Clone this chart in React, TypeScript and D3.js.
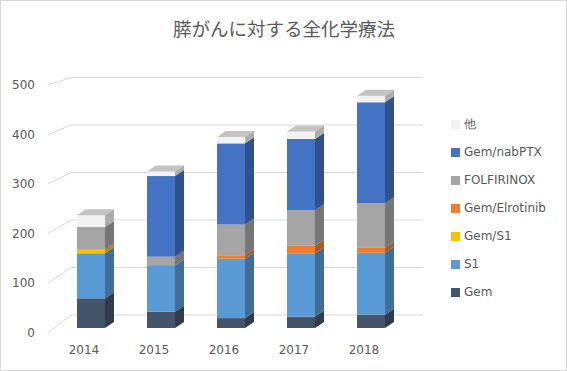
import React from "react";
import * as d3 from "d3";

const years = ["2014", "2015", "2016", "2017", "2018"];
const seriesNames = ["Gem", "S1", "Gem/S1", "Gem/Elrotinib", "FOLFIRINOX", "Gem/nabPTX", "他"];
const gem = [60, 33, 20, 23, 27];
const s1 = [91, 94, 120, 128, 125];
const gemS1 = [7, 0, 0, 0, 0];
const gemElro = [0, 0, 7, 15, 10];
const folfirinox = [46, 17, 62, 72, 90];
const gemNab = [0, 163, 164, 144, 204];
const other = [24, 9, 13, 15, 13];
const ticks = [0, 100, 200, 300, 400, 500];

const seriesValues = [gem, s1, gemS1, gemElro, folfirinox, gemNab, other];
const colors = ["#44546A", "#5B9BD5", "#FFC000", "#ED7D31", "#A5A5A5", "#4472C4", "#F2F2F2"];

const W = 567;
const H = 371;
const DX = 9;
const DY = -6;
const textColor = "#595959";
const grid = "#d9d9d9";
const font = "'DejaVu Sans', sans-serif";

export default function App() {
  const x = d3.scaleBand<string>().domain(years).range([56, 406]).paddingInner(0.6).paddingOuter(0.3);
  const y = d3.scaleLinear().domain([0, 500]).range([328, 328 - 247.5]);
  const yFront = d3.scaleLinear().domain([0, 500]).range([332.7, 85]);
  const yBack = d3.scaleLinear().domain([0, 500]).range([315, 77.5]);
  const xFront = 48;
  const xBack = 71;
  const xRight = 423;

  const stacked = d3
    .stack<number>()
    .keys(seriesNames.map((_, i) => String(i)))
    .value((j, key) => seriesValues[+key][j])(d3.range(years.length));

  const bars: React.ReactNode[] = [];
  years.forEach((yr, j) => {
    const x0 = x(yr)!;
    const bw = x.bandwidth();
    let topIdx = -1;
    stacked.forEach((layer, i) => {
      if (layer[j][1] - layer[j][0] > 0) topIdx = i;
    });
    stacked.forEach((layer, i) => {
      const v0 = layer[j][0];
      const v1 = layer[j][1];
      if (v1 - v0 <= 0) return;
      const yTop = y(v1);
      const yBot = y(v0);
      const c = d3.color(colors[i])!;
      const side = d3.rgb(c).darker(0.95).toString();
      const top = d3.rgb(c).darker(0.6).toString();
      bars.push(
        <g key={`${j}-${i}`}>
          <polygon
            points={`${x0 + bw},${yBot} ${x0 + bw + DX},${yBot + DY} ${x0 + bw + DX},${yTop + DY} ${x0 + bw},${yTop}`}
            fill={side}
          />
          <rect x={x0} y={yTop} width={bw} height={yBot - yTop} fill={colors[i]} />
          {i === topIdx && (
            <polygon
              points={`${x0},${yTop} ${x0 + DX},${yTop + DY} ${x0 + bw + DX},${yTop + DY} ${x0 + bw},${yTop}`}
              fill={top}
            />
          )}
        </g>
      );
    });
  });

  const legendOrder = d3.range(seriesNames.length).reverse();

  return (
    <svg width={W} height={H} style={{ position: "absolute", left: 0, top: 0, background: "#fff" }}>
      <rect x={0.5} y={0.5} width={W - 1} height={H - 1} fill="#fff" stroke={grid} />
      <text x={284} y={36} textAnchor="middle" fontSize={18.5} fill={textColor} fontFamily="'Noto Sans CJK JP', sans-serif">
        膵がんに対する全化学療法
      </text>
      {ticks.map((t) => (
        <g key={t}>
          <polyline
            points={`${xFront},${yFront(t)} ${xBack},${yBack(t)} ${xRight},${yBack(t)}`}
            fill="none"
            stroke={grid}
            strokeWidth={1}
          />
          <text x={35} y={yFront(t)} dy="0.35em" textAnchor="end" fontSize={12} fill={textColor} fontFamily={font}>
            {t}
          </text>
        </g>
      ))}
      {bars}
      {years.map((yr) => (
        <text key={yr} x={x(yr)! + x.bandwidth() / 2 - 7} y={354} textAnchor="middle" fontSize={12} fill={textColor} fontFamily={font}>
          {yr}
        </text>
      ))}
      {legendOrder.map((i, k) => {
        const cy = 124 + k * 28;
        return (
          <g key={seriesNames[i]}>
            <rect x={451} y={cy - 4} width={9} height={9} fill={colors[i]} />
            <text x={464} y={cy} dy="0.35em" fontSize={12} fill={textColor} fontFamily={font}>
              {seriesNames[i]}
            </text>
          </g>
        );
      })}
    </svg>
  );
}
